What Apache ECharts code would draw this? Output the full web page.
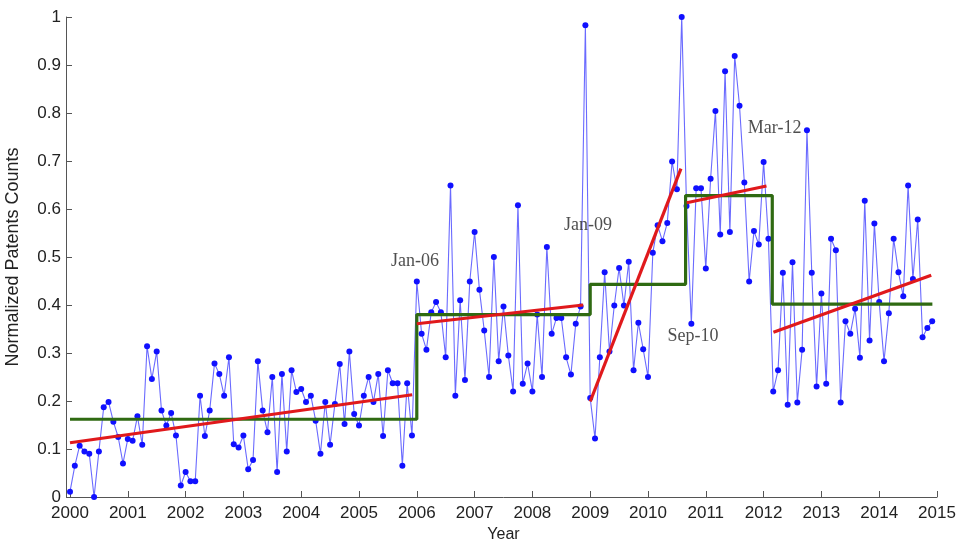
<!DOCTYPE html>
<html>
<head>
<meta charset="utf-8">
<script src="https://cdn.jsdelivr.net/npm/echarts@6/dist/echarts.min.js"></script>
<style>
  html, body { margin: 0; padding: 0; background: #fff; }
  #chart { width: 959px; height: 539px; }
</style>
</head>
<body>
<div id="chart"></div>
<script>
// Monthly normalized patent counts, Jan 2000 .. Dec 2014
const startYear = 2000;
const monthlyCounts = [
  0.011, 0.065, 0.107, 0.095, 0.090, 0.000, 0.095, 0.187, 0.198, 0.157, 0.125, 0.070,
  0.121, 0.117, 0.168, 0.109, 0.314, 0.246, 0.303, 0.180, 0.149, 0.175, 0.128, 0.024,
  0.052, 0.033, 0.033, 0.211, 0.127, 0.180, 0.278, 0.256, 0.211, 0.291, 0.110, 0.103,
  0.128, 0.058, 0.077, 0.283, 0.180, 0.135, 0.250, 0.052, 0.256, 0.095, 0.264, 0.219,
  0.225, 0.198, 0.211, 0.159, 0.090, 0.198, 0.109, 0.194, 0.277, 0.152, 0.303, 0.173,
  0.149, 0.211, 0.250, 0.198, 0.256, 0.127, 0.264, 0.237, 0.237, 0.065, 0.237, 0.128,
  0.449, 0.340, 0.307, 0.385, 0.406, 0.385, 0.291, 0.649, 0.211, 0.410, 0.244, 0.449,
  0.552, 0.432, 0.347, 0.250, 0.500, 0.283, 0.397, 0.295, 0.220, 0.608, 0.236, 0.278,
  0.220, 0.380, 0.250, 0.521, 0.340, 0.373, 0.373, 0.291, 0.255, 0.361, 0.397, 0.983,
  0.206, 0.122, 0.291, 0.468, 0.303, 0.399, 0.477, 0.399, 0.490, 0.264, 0.363, 0.308,
  0.250, 0.509, 0.566, 0.533, 0.571, 0.699, 0.641, 1.000, 0.606, 0.361, 0.643, 0.643,
  0.476, 0.663, 0.804, 0.547, 0.887, 0.552, 0.919, 0.815, 0.655, 0.449, 0.554, 0.526,
  0.698, 0.538, 0.220, 0.264, 0.467, 0.192, 0.489, 0.197, 0.307, 0.764, 0.467, 0.230,
  0.424, 0.236, 0.538, 0.514, 0.197, 0.366, 0.340, 0.392, 0.290, 0.617, 0.326, 0.570,
  0.406, 0.283, 0.383, 0.538, 0.468, 0.418, 0.649, 0.454, 0.578, 0.333, 0.352, 0.366
];

// Regime means (green step): breakpoints in years and level of each regime
const regimeBreaks = [2000, 2006, 2009, 2010.65, 2012.15, 2014.92];
const regimeLevels = [0.162, 0.380, 0.443, 0.628, 0.402];

// Linear trend within each regime (red): start/end year and value
const trendStarts = [2000.0, 2006.0, 2009.0, 2010.67, 2012.17];
const trendStartValues = [0.113, 0.361, 0.199, 0.613, 0.343];
const trendEnds = [2005.92, 2008.88, 2010.57, 2012.05, 2014.9];
const trendEndValues = [0.213, 0.400, 0.684, 0.648, 0.462];

// Change-point labels
const noteTexts = ['Jan-06', 'Jan-09', 'Sep-10', 'Mar-12'];
const noteYears = [2005.97, 2008.96, 2010.78, 2012.19];
const noteValues = [0.491, 0.566, 0.335, 0.768];

const yearTicks = [2000, 2001, 2002, 2003, 2004, 2005, 2006, 2007, 2008, 2009, 2010, 2011, 2012, 2013, 2014, 2015];

const countPoints = monthlyCounts.map((v, i) => [startYear + i / 12, v]);

const stepPoints = [];
regimeLevels.forEach((lv, k) => {
  stepPoints.push([regimeBreaks[k], lv]);
  stepPoints.push([regimeBreaks[k + 1], lv]);
});

const trendSeries = trendStarts.map((s, k) => ({
  type: 'line',
  data: [[s, trendStartValues[k]], [trendEnds[k], trendEndValues[k]]],
  symbol: 'none',
  lineStyle: { color: '#e0191c', width: 3.2 },
  z: 4,
  silent: true
}));

const sansFont = 'Liberation Sans, Arial, sans-serif';

const chart = echarts.init(document.getElementById('chart'), null, { renderer: 'canvas' });

chart.setOption({
  animation: false,
  backgroundColor: '#ffffff',
  grid: { left: 70, right: 22, top: 17, bottom: 42, containLabel: false, outerBoundsMode: 'none' },
  xAxis: {
    type: 'value',
    min: 2000, max: 2015, interval: 1,
    name: 'Year',
    nameLocation: 'middle',
    nameGap: 26,
    nameTextStyle: { fontFamily: sansFont, fontSize: 16, color: '#222' },
    axisLine: { show: true, lineStyle: { color: '#555', width: 1 } },
    axisTick: { show: true, inside: true, length: 6, lineStyle: { color: '#555' } },
    axisLabel: {
      margin: 8,
      fontFamily: sansFont, fontSize: 17, color: '#222',
      formatter: v => (yearTicks.indexOf(v) >= 0 ? String(v) : '')
    },
    splitLine: { show: false }
  },
  yAxis: {
    type: 'value',
    min: 0, max: 1, interval: 0.1,
    offset: 4,
    name: 'Normalized Patents Counts',
    nameLocation: 'middle',
    nameGap: 44,
    nameRotate: 90,
    nameTextStyle: { fontFamily: sansFont, fontSize: 18, color: '#222' },
    axisLine: { show: true, lineStyle: { color: '#555', width: 1 } },
    axisTick: { show: true, inside: true, length: 6, lineStyle: { color: '#555' } },
    axisLabel: {
      margin: 5,
      fontFamily: sansFont, fontSize: 17, color: '#222',
      formatter: v => String(Math.round(v * 10) / 10)
    },
    splitLine: { show: false }
  },
  series: [
    {
      type: 'line',
      data: countPoints,
      symbol: 'circle',
      symbolSize: 6,
      itemStyle: { color: '#1010ff' },
      lineStyle: { color: '#6a6aff', width: 1.1 },
      z: 2,
      silent: true
    },
    {
      type: 'line',
      data: stepPoints,
      symbol: 'none',
      lineStyle: { color: '#2f6a12', width: 3.2 },
      z: 3,
      silent: true
    },
    ...trendSeries,
    {
      type: 'scatter',
      data: noteTexts.map((t, k) => ({ value: [noteYears[k], noteValues[k]], name: t })),
      symbolSize: 0,
      label: {
        show: true,
        position: 'inside',
        formatter: p => p.name,
        fontFamily: 'Liberation Serif, DejaVu Serif, serif',
        fontSize: 18,
        color: '#222'
      },
      z: 5,
      silent: true
    }
  ]
});
</script>
</body>
</html>
